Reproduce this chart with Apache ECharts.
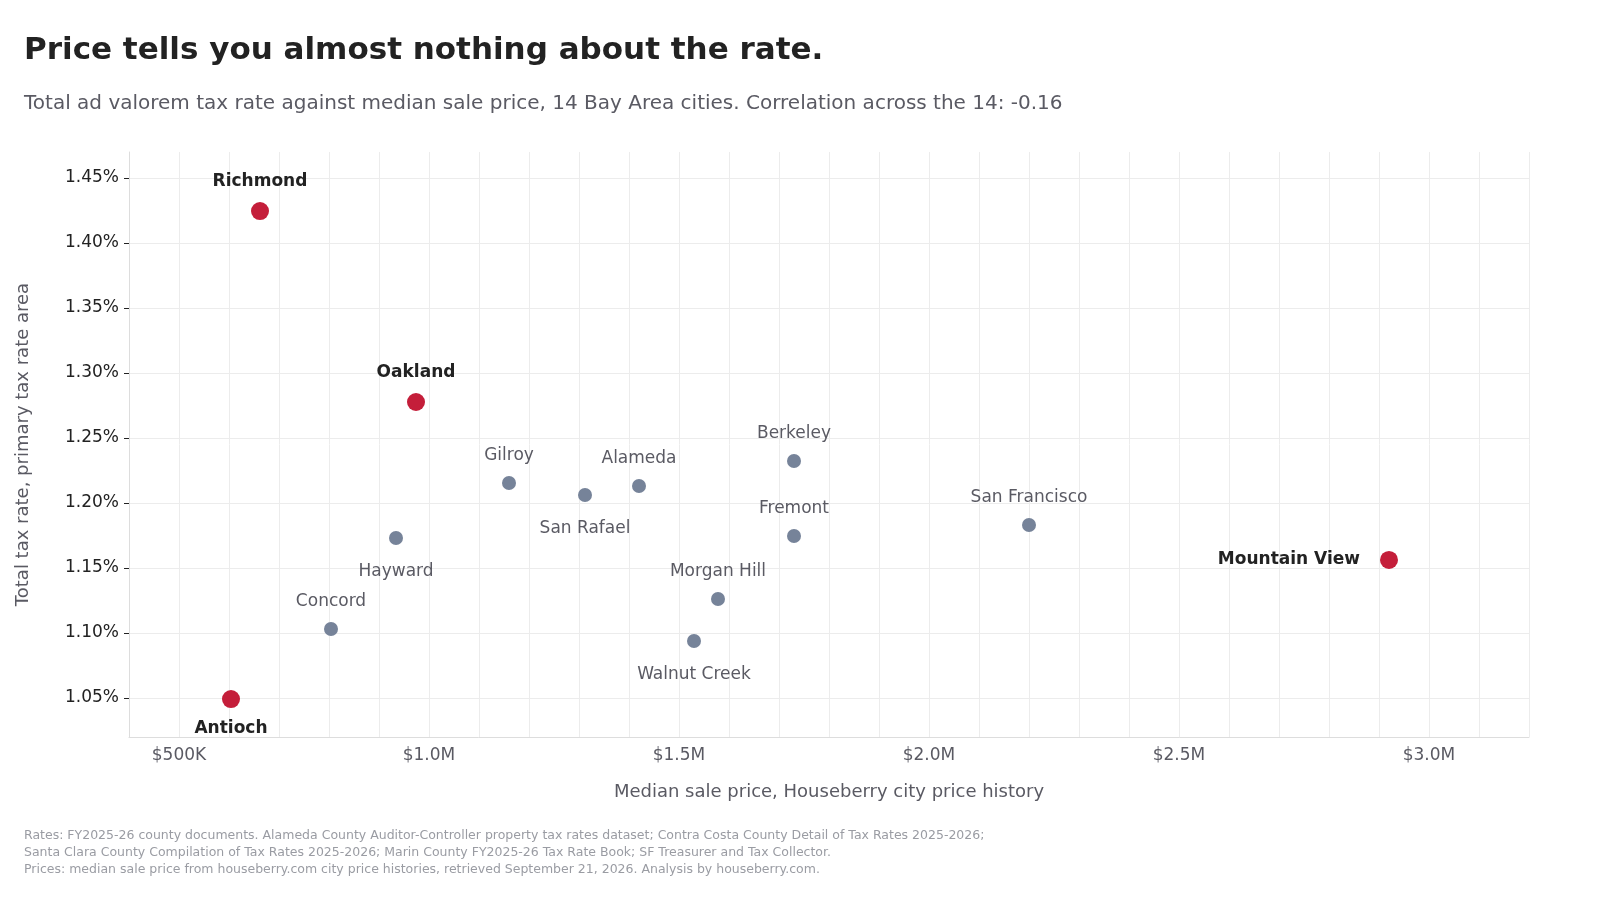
<!DOCTYPE html>
<html lang="en">
<head>
<meta charset="UTF-8">
<title>Tax rate vs price</title>
<script src="https://cdn.jsdelivr.net/npm/echarts@6/dist/echarts.min.js"></script>
<style>
  html, body { margin: 0; padding: 0; background: #fff; }
  #main { width: 1600px; height: 900px; }
</style>
</head>
<body>
<div id="main"></div>
<script>
// median sale price in $K, total tax rate in %
var cities = ['Richmond', 'Oakland', 'Antioch', 'Mountain View', 'Gilroy', 'San Rafael', 'Alameda',
              'Berkeley', 'Fremont', 'San Francisco', 'Hayward', 'Concord', 'Morgan Hill', 'Walnut Creek'];
var prices = [662, 974, 604, 2920, 1160, 1312, 1420, 1730, 1730, 2200, 934, 804, 1578, 1530];
var rates  = [1.4246, 1.2777, 1.0492, 1.1562, 1.2154, 1.2062, 1.2131, 1.2323, 1.1746, 1.1831, 1.1731, 1.1031, 1.1262, 1.0938];
var highlighted = ['Richmond', 'Oakland', 'Antioch', 'Mountain View'];
var labelBelow = ['Antioch', 'Hayward', 'San Rafael', 'Walnut Creek'];
var labelLeft = ['Mountain View'];
var yTicks = [1.05, 1.10, 1.15, 1.20, 1.25, 1.30, 1.35, 1.40, 1.45];

function pointsFor(hi) {
  var out = [];
  for (var i = 0; i < cities.length; i++) {
    if ((highlighted.indexOf(cities[i]) >= 0) !== hi) continue;
    var pos = 'top', dist = 12;
    if (labelBelow.indexOf(cities[i]) >= 0) { pos = 'bottom'; dist = hi ? 12 : 18; }
    if (labelLeft.indexOf(cities[i]) >= 0) { pos = 'left'; dist = 20; }
    out.push({ name: cities[i], value: [prices[i], rates[i]], label: { position: pos, distance: dist } });
  }
  return out;
}

function every500(idx, v) { return Math.round(v) % 500 === 0; }

var chart = echarts.init(document.getElementById('main'));
chart.setOption({
  animation: false,
  textStyle: { fontFamily: 'DejaVu Sans' },
  title: [
    { text: 'Price tells you almost nothing about the rate.', left: 19, top: 30,
      textStyle: { fontSize: 31, fontWeight: 'bold', color: '#222' } },
    { text: 'Total ad valorem tax rate against median sale price, 14 Bay Area cities. Correlation across the 14: -0.16',
      left: 19, top: 89, textStyle: { fontSize: 20, fontWeight: 'normal', color: '#5a5a63' } },
    { text: 'Rates: FY2025-26 county documents. Alameda County Auditor-Controller property tax rates dataset; Contra Costa County Detail of Tax Rates 2025-2026;\nSanta Clara County Compilation of Tax Rates 2025-2026; Marin County FY2025-26 Tax Rate Book; SF Treasurer and Tax Collector.\nPrices: median sale price from houseberry.com city price histories, retrieved September 21, 2026. Analysis by houseberry.com.',
      left: 19, top: 822, textStyle: { fontSize: 12.5, fontWeight: 'normal', color: '#9a9ca3', lineHeight: 17 } }
  ],
  grid: { left: 129, right: 71, top: 152, bottom: 163 },
  xAxis: {
    type: 'value', min: 400, max: 3200, interval: 100,
    name: 'Median sale price, Houseberry city price history', nameLocation: 'middle', nameGap: 46,
    nameTextStyle: { fontSize: 18, color: '#5a5a63' },
    axisLine: { lineStyle: { color: '#ddd' } },
    axisTick: { show: false },
    axisLabel: { fontSize: 17, color: '#5a5a63', margin: 10, interval: every500,
      formatter: function (v) {
        if (Math.round(v) % 500 !== 0) return '';
        return v < 1000 ? '$' + v + 'K' : '$' + (v / 1000).toFixed(1) + 'M';
      } },
    splitLine: { show: true, interval: every500, lineStyle: { color: '#ececec' } }
  },
  yAxis: {
    type: 'value', min: 1.02, max: 1.47,
    name: 'Total tax rate, primary tax rate area', nameLocation: 'middle', nameGap: 97,
    nameTextStyle: { fontSize: 18, color: '#5a5a63' },
    axisLine: { show: true, lineStyle: { color: '#ddd' } },
    axisTick: { show: true, length: 5, lineStyle: { color: '#222' }, customValues: yTicks },
    axisLabel: { fontSize: 17, color: '#222', margin: 10, customValues: yTicks,
      formatter: function (v) { return v.toFixed(2) + '%'; } },
    splitLine: { show: true, lineStyle: { color: '#ececec' } }
  },
  series: [
    { type: 'scatter', symbolSize: 14, data: pointsFor(false),
      itemStyle: { color: '#768399', opacity: 1 },
      label: { show: true, formatter: '{b}', fontSize: 17, color: '#5a5a63' } },
    { type: 'scatter', symbolSize: 18, data: pointsFor(true),
      itemStyle: { color: '#c41e3a', opacity: 1 },
      label: { show: true, formatter: '{b}', fontSize: 17, fontWeight: 'bold', color: '#222' } }
  ]
});
</script>
</body>
</html>
